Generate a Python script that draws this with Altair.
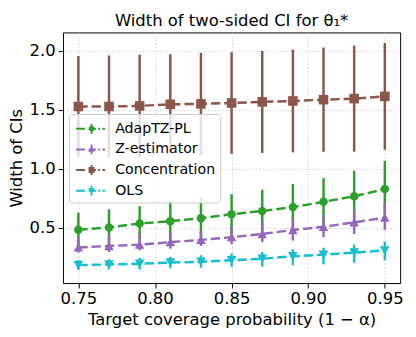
import altair as alt
import pandas as pd

# ---------------- data ----------------
coverage = [0.75, 0.77, 0.79, 0.81, 0.83, 0.85, 0.87, 0.89, 0.91, 0.93, 0.95]

series_names = ["AdapTZ-PL", "Z-estimator", "Concentration", "OLS"]
series_colors = ["#2ca02c", "#9467bd", "#8c564b", "#17becf"]
series_shapes = ["circle", "triangle-up", "square", "triangle-down"]

adap_mid = [0.483, 0.503, 0.536, 0.556, 0.581, 0.614, 0.642, 0.675, 0.720, 0.767, 0.828]
adap_hi = [0.628, 0.656, 0.683, 0.725, 0.753, 0.785, 0.822, 0.872, 0.920, 0.983, 1.067]
adap_lo = [0.338, 0.350, 0.389, 0.387, 0.409, 0.443, 0.462, 0.478, 0.520, 0.551, 0.589]

zest_mid = [0.333, 0.345, 0.356, 0.378, 0.397, 0.420, 0.447, 0.481, 0.508, 0.545, 0.586]
zest_hi = [0.411, 0.433, 0.447, 0.461, 0.475, 0.514, 0.545, 0.578, 0.611, 0.656, 0.711]
zest_lo = [0.289, 0.295, 0.308, 0.322, 0.345, 0.360, 0.378, 0.392, 0.420, 0.447, 0.483]

conc_mid = [1.528, 1.528, 1.533, 1.547, 1.550, 1.558, 1.567, 1.575, 1.586, 1.595, 1.614]
conc_hi = [1.956, 1.961, 1.967, 1.972, 1.983, 1.989, 2.000, 2.011, 2.028, 2.045, 2.067]
conc_lo = [1.100, 1.095, 1.099, 1.122, 1.117, 1.127, 1.134, 1.139, 1.144, 1.145, 1.161]

ols_mid = [0.183, 0.189, 0.195, 0.205, 0.211, 0.225, 0.237, 0.258, 0.272, 0.289, 0.308]
ols_hi = [0.225, 0.233, 0.245, 0.253, 0.267, 0.281, 0.294, 0.317, 0.331, 0.356, 0.383]
ols_lo = [0.142, 0.147, 0.147, 0.156, 0.161, 0.169, 0.170, 0.183, 0.189, 0.203, 0.225]

x_ticks = [0.75, 0.80, 0.85, 0.90, 0.95]
y_ticks = [0.5, 1.0, 1.5, 2.0]

mids = [adap_mid, zest_mid, conc_mid, ols_mid]
his = [adap_hi, zest_hi, conc_hi, ols_hi]
los = [adap_lo, zest_lo, conc_lo, ols_lo]

rows = []
for name, m, h, l in zip(series_names, mids, his, los):
    for xv, mv, hv, lv in zip(coverage, m, h, l):
        rows.append({"x": xv, "series": name, "mid": mv, "hi": hv, "lo": lv})
df = pd.DataFrame(rows)

FONT = "DejaVu Sans"
xscale = alt.Scale(domain=[0.74, 0.96], nice=False, zero=False)
yscale = alt.Scale(domain=[0.031, 2.156], nice=False, zero=False)
xaxis = alt.Axis(values=x_ticks, format=".2f", title="Target coverage probability (1 − α)",
                 labelFlush=False, labelOverlap=False)
yaxis = alt.Axis(values=y_ticks, format=".1f", title="Width of CIs")

marker_sizes = {"circle": 75, "triangle-up": 95, "square": 95, "triangle-down": 100}

layers = []
for i, (name, col, shp) in enumerate(zip(series_names, series_colors, series_shapes)):
    base = alt.Chart(df).transform_filter(alt.datum.series == name)
    if i == 0:
        X = alt.X("x:Q", scale=xscale, axis=xaxis)
        Y = alt.Y("lo:Q", scale=yscale, axis=yaxis)
    else:
        X = alt.X("x:Q", scale=xscale)
        Y = alt.Y("lo:Q", scale=yscale)
    rule = base.mark_rule(strokeWidth=2.5, color=col).encode(x=X, y=Y, y2="hi:Q")
    line = base.mark_line(strokeWidth=2.5, strokeDash=[9.5, 4], color=col).encode(
        x=alt.X("x:Q", scale=xscale), y=alt.Y("mid:Q", scale=yscale))
    pts = base.mark_point(filled=True, shape=shp, size=marker_sizes[shp], color=col,
                          opacity=1, strokeWidth=0).encode(
        x=alt.X("x:Q", scale=xscale), y=alt.Y("mid:Q", scale=yscale))
    layers += [rule, line, pts]

# legend handles: dashed line + marker + vertical error bar, as custom symbol paths
def rect(x0, x1, y0, y1):
    return f"M{x0},{y0}H{x1}V{y1}H{x0}Z"

line_part = (rect(-1.57, -0.67, -0.1, 0.1) + rect(-0.3, 0.45, -0.1, 0.1)
             + rect(0.68, 0.88, -0.1, 0.1) + rect(1.1, 1.38, -0.1, 0.1)
             + rect(-0.1, 0.1, -0.5, 0.5))
marker_paths = {
    "circle": "M-0.3,0A0.3,0.3 0 1,1 0.3,0A0.3,0.3 0 1,1 -0.3,0Z",
    "triangle-up": "M0,-0.36L0.34,0.24L-0.34,0.24Z",
    "square": "M-0.3,-0.3H0.3V0.3H-0.3Z",
    "triangle-down": "M0,0.36L-0.34,-0.24L0.34,-0.24Z",
}
legend_paths = [line_part + marker_paths[s] for s in series_shapes]

legend_df = pd.DataFrame({"series": series_names})
legend_layer = alt.Chart(legend_df).mark_point(filled=True, opacity=1, clip=True, size=10).encode(
    x=alt.value(-500), y=alt.value(-500),
    color=alt.Color("series:N", scale=alt.Scale(domain=series_names, range=series_colors),
                    legend=alt.Legend(title=None, orient="none", legendX=6, legendY=83,
                                      symbolSize=400, symbolStrokeWidth=0, symbolOffset=8,
                                      labelOffset=14, labelFontSize=14.4, labelFont=FONT,
                                      labelColor="black", rowPadding=4, padding=5,
                                      fillColor="rgba(255,255,255,0.8)", strokeColor="#cccccc",
                                      cornerRadius=3, symbolOpacity=1)),
    shape=alt.Shape("series:N", scale=alt.Scale(domain=series_names, range=legend_paths)),
)
layers.append(legend_layer)

chart = alt.layer(*layers).properties(
    width=343, height=255,
    title=alt.TitleParams("Width of two-sided CI for θ₁*", font=FONT, fontSize=16.7,
                          fontWeight="normal", color="black", anchor="middle", offset=3),
    padding={"left": 0, "top": 2, "right": 5, "bottom": 5},
).configure_axis(
    labelFont=FONT, titleFont=FONT, labelFontSize=16.7, titleFontSize=16.7,
    titleFontWeight="normal", labelColor="black", titleColor="black",
    tickColor="black", tickSize=5, tickWidth=1, domain=False,
    grid=True, gridColor="#c8c8c8", gridDash=[1.5, 2], gridWidth=0.8,
    labelPadding=3, titlePadding=4,
).configure_view(stroke="black", strokeWidth=1).properties(background="white")

chart.save("out.html", embed_options={"renderer": "svg", "actions": False})
